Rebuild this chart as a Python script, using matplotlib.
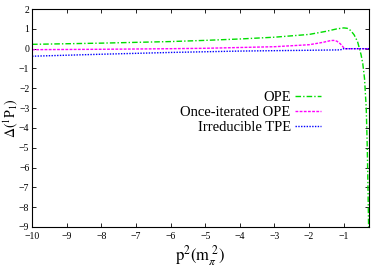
import numpy as np
import matplotlib
matplotlib.use('Agg')
import matplotlib.pyplot as plt

plt.rcParams['font.family'] = 'serif'
plt.rcParams['font.serif'] = ['Liberation Serif', 'DejaVu Serif']
plt.rcParams['mathtext.fontset'] = 'stix'

# OPE
x_ope = [-10, -9, -8, -7, -6, -5, -4, -3, -2, -1.5, -1.2, -1.0, -0.9, -0.8, -0.7,
         -0.6, -0.5, -0.45, -0.4, -0.35, -0.32, -0.3, -0.28]
y_ope = [0.22, 0.25, 0.28, 0.32, 0.36, 0.42, 0.49, 0.58, 0.72, 0.88, 1.0, 1.05, 1.03,
         0.92, 0.7, 0.35, -0.3, -0.75, -1.5, -3.0, -5.0, -7.0, -9.2]
# once-iterated OPE
x_it = [-10, -8, -6, -5, -4, -3, -2, -1.6, -1.4, -1.3, -1.2, -1.1, -1.0, -0.97, -0.27]
y_it = [-0.05, -0.03, 0.0, 0.02, 0.06, 0.1, 0.2, 0.32, 0.4, 0.42, 0.38, 0.25, 0.05, 0.0, 0.0]
# irreducible TPE
x_tpe = [-10, -8, -6, -4, -2, -1.1, -1.0, -0.27]
y_tpe = [-0.38, -0.28, -0.19, -0.12, -0.08, -0.06, 0.0, 0.0]

fig = plt.figure(figsize=(3.82, 2.67), dpi=100)
ax = fig.add_axes([0.084, 0.15, 0.882, 0.816])

ax.plot(x_ope, y_ope, color='#00dd00', lw=1.0, ls=(0, (4, 1.5, 1, 1.5)), label='OPE')
ax.plot(x_it, y_it, color='#ff00ff', lw=1.0, ls=(0, (2, 1)), label='Once-iterated OPE')
ax.plot(x_tpe, y_tpe, color='#0000ff', lw=1.0, ls=(0, (1, 1)), label='Irreducible TPE')

ax.set_xlim(-10, -0.27)
ax.set_ylim(-9, 2)
ax.set_xticks(range(-10, 0))
ax.set_yticks(range(-9, 3))
ax.tick_params(direction='in', top=True, right=True, labelsize=7, length=3, width=0.6, pad=2)
ax.tick_params(axis='x', pad=3.5)
for s in ax.spines.values():
    s.set_linewidth(0.8)

ax.set_xlabel(r'$\mathrm{p}^2(\mathrm{m}_\pi^{\ 2})$', fontsize=12, labelpad=2)
ax.set_ylabel(r'$\Delta(^1\mathrm{P}_1)$', fontsize=10)
ax.yaxis.set_label_coords(-0.036, 0.5)

ax.legend(loc='upper right', bbox_to_anchor=(0.88, 0.66), frameon=False, markerfirst=False,
          fontsize=10.5, handlelength=1.8, handletextpad=0.3, labelspacing=0.15, borderpad=0)

fig.savefig('out.png', dpi=100)
